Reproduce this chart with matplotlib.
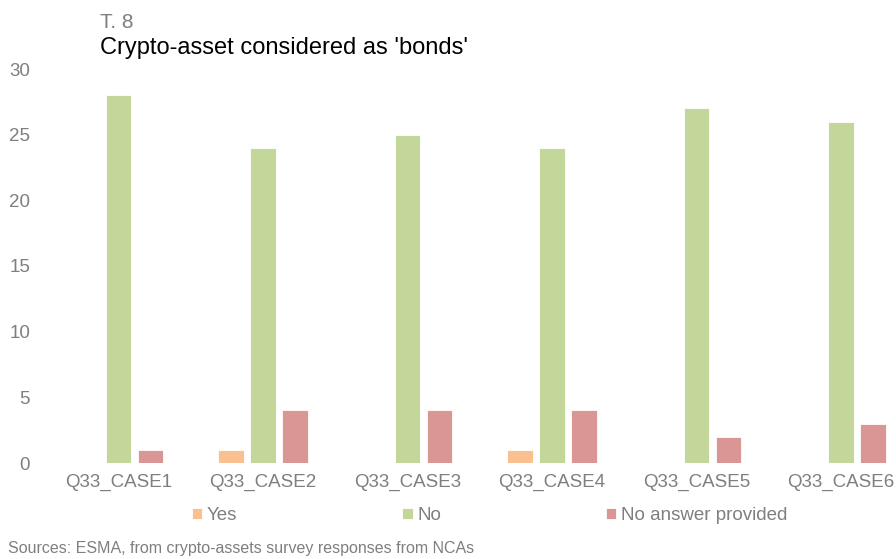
import numpy as np
import matplotlib
matplotlib.use("Agg")
import matplotlib.pyplot as plt

plt.rcParams['font.family'] = ['Liberation Sans', 'DejaVu Sans']

categories = ['Q33_CASE1', 'Q33_CASE2', 'Q33_CASE3', 'Q33_CASE4', 'Q33_CASE5', 'Q33_CASE6']
yes = [0, 1, 0, 1, 0, 0]
no = [28, 24, 25, 24, 27, 26]
no_answer = [1, 4, 4, 4, 2, 3]

series = [('Yes', yes, '#FAC090'), ('No', no, '#C4D79B'), ('No answer provided', no_answer, '#D99694')]
grey = '#7F7F7F'

fig = plt.figure(figsize=(8.96, 5.59), dpi=100)
ax = fig.add_axes([46 / 896, 1 - 463 / 559, 850 / 896, 394 / 559])

x = np.arange(len(categories))
step, width = 0.221, 0.176
for i, (name, vals, color) in enumerate(series):
    ax.bar(x + (i - 1) * step, vals, width, color=color, label=name,
           edgecolor='white', linewidth=0.6)

ax.set_xlim(-0.5, 5.38)
ax.set_ylim(0, 30)
ax.set_yticks(range(0, 31, 5))
ax.set_xticks(x)
ax.set_xticklabels(categories)
ax.tick_params(axis='both', length=0, colors=grey, labelsize=13.5)
ax.tick_params(axis='x', pad=8)
ax.tick_params(axis='y', pad=11.5)
for s in ax.spines.values():
    s.set_visible(False)

leg = ax.legend(loc='center', bbox_to_anchor=(0.522, -0.133), ncol=3, frameon=False,
                handlelength=0.55, handleheight=0.55, handletextpad=0.25,
                columnspacing=8.8, fontsize=13.5)
for t in leg.get_texts():
    t.set_color(grey)

fig.text(100 / 896, 1 - 22 / 559, 'T. 8', color=grey, fontsize=15, va='center')
fig.text(100 / 896, 1 - 48 / 559, "Crypto-asset considered as 'bonds'", color='black',
         fontsize=17, va='center')
fig.text(8 / 896, 1 - 548 / 559, 'Sources: ESMA, from crypto-assets survey responses from NCAs',
         color=grey, fontsize=11.5, va='center')

fig.savefig('out.png', dpi=100)
